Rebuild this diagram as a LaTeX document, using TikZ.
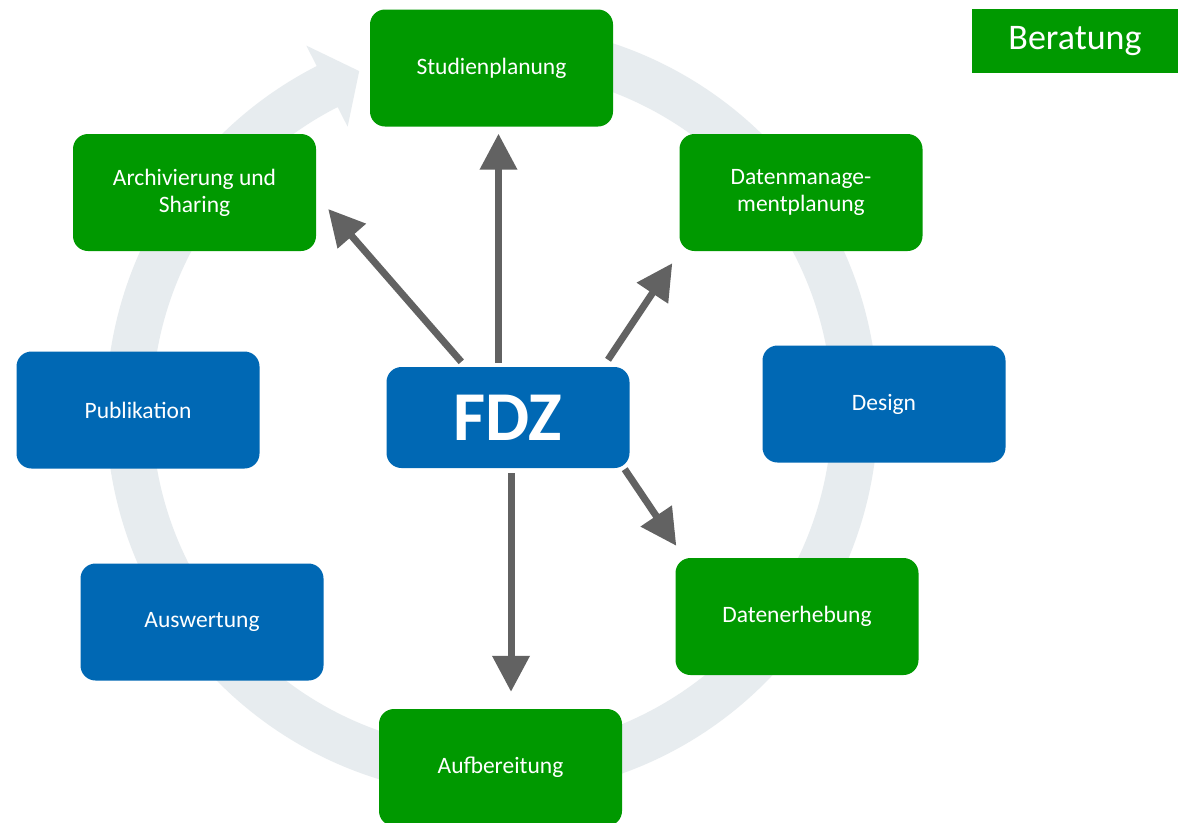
\documentclass[tikz,border=0pt]{standalone}
\usepackage{fontspec}
\setmainfont{Carlito}
\usetikzlibrary{arrows.meta,calc}
\definecolor{fgreen}{RGB}{0,153,0}
\definecolor{fblue}{RGB}{0,104,180}
\definecolor{ringgray}{RGB}{231,236,239}
\definecolor{arrgray}{RGB}{98,98,98}
\begin{document}
\begin{tikzpicture}[x=1pt,y=-1pt,
  box/.style={rounded corners=15pt, minimum width=243pt, minimum height=117pt, inner sep=0pt,
    text=white, font=\fontsize{23.5}{27}\selectfont, align=center},
  gbox/.style={box, fill=fgreen},
  bbox/.style={box, fill=fblue},
  conn/.style={draw=arrgray, line width=7pt, -{Triangle[length=36pt,width=36pt,fill=arrgray]}}]
\useasboundingbox (0,0) rectangle (1178,822);
\fill[white] (0,0) rectangle (1178,822);
% ring arrow
\coordinate (c) at (492,410);
\fill[ringgray] ($(c)+(265:386)$) arc[start angle=265,end angle=603,radius=386]
  -- ($(c)+(603:409)$) -- ($(c)+(608.6:364)$) -- ($(c)+(603:318)$)
  -- ($(c)+(603:340)$) arc[start angle=603,end angle=265,radius=340] -- cycle;
% boxes
\node[gbox] (stud) at (491.5,68) {Studienplanung};
\node[gbox] (arch) at (194.5,192.5) {Archivierung und\\Sharing};
\node[gbox] (dmp) at (801,192.5) {Datenmanage-\\mentplanung};
\node[bbox] (design) at (884,404) {Design};
\node[bbox] (publ) at (138,410) {Publikation};
\node[bbox, minimum height=101pt, font=\bfseries\fontsize{70}{70}\selectfont] (fdz) at (508,417.5) {FDZ};
\node[gbox] (erh) at (797,616.5) {Datenerhebung};
\node[bbox] (ausw) at (202,622) {Auswertung};
\node[gbox] (aufb) at (500.5,767.5) {Aufbereitung};
\node[fill=fgreen, text=white, minimum width=206pt, minimum height=64pt, inner sep=0pt,
  font=\fontsize{36}{36}\selectfont] (ber) at (1075,41) {Beratung};
% arrows
\draw[conn] ($(fdz.north west)+(75,-5)$) -- ($(arch.east)+(12,16.5)$);
\draw[conn] ($(fdz.north)+(-9.5,-4)$) -- ($(stud.south)+(7,7)$);
\draw[conn] ($(fdz.north)+(100,-7)$) -- ($(dmp.south west)+(-7,12)$);
\draw[conn] ($(fdz.south east)+(-5,1)$) -- ($(erh.north west)+(1,-12)$);
\draw[conn] ($(fdz.south)+(3,5)$) -- ($(aufb.north)+(10.5,-17)$);
\end{tikzpicture}
\end{document}
